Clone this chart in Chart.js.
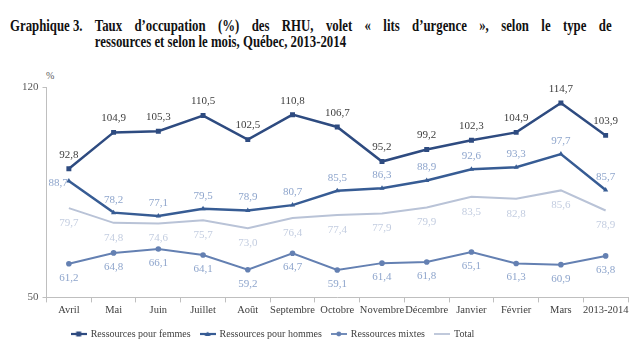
<!DOCTYPE html>
<html><head><meta charset="utf-8">
<script src="https://cdn.jsdelivr.net/npm/chart.js@4/dist/chart.umd.min.js"></script>
<style>
html,body{margin:0;padding:0;background:#fff;}
#wrap{position:relative;width:635px;height:357px;overflow:hidden;}
#title{position:absolute;left:10px;top:18px;width:752px;transform:scaleX(0.8);transform-origin:0 0;font-family:"Liberation Serif","Times New Roman",serif;font-weight:bold;font-size:16px;line-height:16px;color:#111;white-space:nowrap;}
#title .num{position:absolute;left:0;top:0;}
#title .l1{margin-left:106px;text-align:justify;text-align-last:justify;white-space:normal;}
#title .l2{margin-left:106px;}
#pct{position:absolute;left:46px;top:70px;font-family:"Liberation Serif",serif;font-size:10px;color:#595959;}
canvas{position:absolute;left:0;top:0;}
</style></head><body>
<div id="wrap">
<div id="title"><span class="num">Graphique 3.</span><div class="l1">Taux d’occupation (%) des RHU, volet « lits d’urgence », selon le type de</div><div class="l2">ressources et selon le mois, Québec, 2013-2014</div></div>
<div id="pct">%</div>
<canvas id="c" width="635" height="357"></canvas>
</div>
<script>
const categories = ["Avril","Mai","Juin","Juillet","Août","Septembre","Octobre","Novembre","Décembre","Janvier","Février","Mars","2013-2014"];
const femmes = [92.8,104.9,105.3,110.5,102.5,110.8,106.7,95.2,99.2,102.3,104.9,114.7,103.9];
const hommes = [88.7,78.2,77.1,79.5,78.9,80.7,85.5,86.3,88.9,92.6,93.3,97.7,85.7];
const mixtes = [61.2,64.8,66.1,64.1,59.2,64.7,59.1,61.4,61.8,65.1,61.3,60.9,63.8];
const total = [79.7,74.8,74.6,75.7,73.0,76.4,77.4,77.9,79.9,83.5,82.8,85.6,78.9];
const yTicks = [50,120];

const serif = '"Liberation Serif","Times New Roman",serif';

function legendIcon(color, style, lw){
  const cv = document.createElement('canvas');
  cv.width = 16; cv.height = 10;
  const x = cv.getContext('2d');
  x.strokeStyle = color; x.fillStyle = color; x.lineWidth = lw;
  x.beginPath(); x.moveTo(0,5); x.lineTo(16,5); x.stroke();
  if(style==='rect'){ x.fillRect(5.5,2.5,5,5); }
  else if(style==='triangle'){ x.beginPath(); x.moveTo(8,2.5); x.lineTo(11,7); x.lineTo(5,7); x.closePath(); x.fill(); }
  else if(style==='circle'){ x.beginPath(); x.arc(8,5,2.4,0,Math.PI*2); x.fill(); }
  return cv;
}

const dsDefs = [
  {label:"Ressources pour femmes", data:femmes, color:"#2E4B80", ps:"rect", r:3.5, lw:2.5, lab:{color:"#404040", dy:-14}},
  {label:"Ressources pour hommes", data:hommes, color:"#375C94", ps:"triangle", r:3, lw:2.5, lab:{color:"#8EA5CC", dy:-13}},
  {label:"Ressources mixtes", data:mixtes, color:"#6480B2", ps:"circle", r:2.8, lw:2, lab:{color:"#8EA5CC", dy:14}},
  {label:"Total", data:total, color:"#B9C3D7", ps:false, r:0, lw:2, lab:{color:"#C3CDE0", dy:15}}
];

const labelsPlugin = {
  id:'vlabels',
  afterDatasetsDraw(chart){
    const ctx = chart.ctx;
    ctx.save();
    ctx.font = '11px ' + serif;
    ctx.textBaseline = 'middle';
    chart.data.datasets.forEach((ds,i)=>{
      const meta = chart.getDatasetMeta(i);
      const lab = dsDefs[i].lab;
      meta.data.forEach((pt,j)=>{
        const txt = ds.data[j].toFixed(1).replace('.',',');
        ctx.fillStyle = lab.color;
        let x = pt.x, y = pt.y + lab.dy;
        ctx.textAlign = 'center';
        if(i===1 && j===0){ ctx.textAlign='right'; x = pt.x - 1; y = pt.y + 2; }
        ctx.fillText(txt, x, y);
      });
    });
    ctx.restore();
  }
};

const legendShift = {
  id:'legendShift',
  afterLayout(chart){
    const lg = chart.legend;
    if(lg){ lg.left -= 50; lg.right -= 50; }
  }
};

new Chart(document.getElementById('c'), {
  type:'line',
  data:{
    labels:categories,
    datasets: dsDefs.map(d=>({
      label:d.label, data:d.data, borderColor:d.color, backgroundColor:d.color,
      borderWidth:d.lw, pointStyle:d.ps||'circle', pointRadius:d.r, pointHoverRadius:d.r,
      pointBackgroundColor:d.color, pointBorderWidth:0, tension:0, fill:false
    }))
  },
  options:{
    responsive:false, animation:false,
    layout:{padding:{left:18, right:7, top:87, bottom:8}},
    plugins:{
      tooltip:{enabled:false},
      legend:{
        position:'bottom',
        labels:{
          usePointStyle:true, pointStyleWidth:14, padding:10,
          font:{family:serif, size:10}, color:'#404040',
          generateLabels(chart){
            return dsDefs.map((d,i)=>({
              text:d.label, pointStyle:legendIcon(d.color,d.ps,d.lw===2.5?2.2:1.8),
              fillStyle:d.color, strokeStyle:d.color, lineWidth:0, hidden:false, datasetIndex:i, fontColor:'#404040'
            }));
          }
        }
      }
    },
    scales:{
      x:{
        offset:true,
        grid:{display:true, drawOnChartArea:false, drawTicks:true, tickLength:5, color:'#BFBFBF', offset:true},
        border:{color:'#BFBFBF'},
        ticks:{font:{family:serif, size:10.5}, color:'#404040', maxRotation:0, autoSkip:false, padding:2}
      },
      y:{
        min:50, max:120,
        afterBuildTicks(s){ s.ticks = yTicks.map(v=>({value:v})); },
        grid:{display:true, drawOnChartArea:false, tickLength:4, color:'#BFBFBF'},
        border:{color:'#BFBFBF'},
        ticks:{font:{family:serif, size:11}, color:'#595959', padding:4}
      }
    }
  },
  plugins:[labelsPlugin, legendShift]
});
</script>
</body></html>
